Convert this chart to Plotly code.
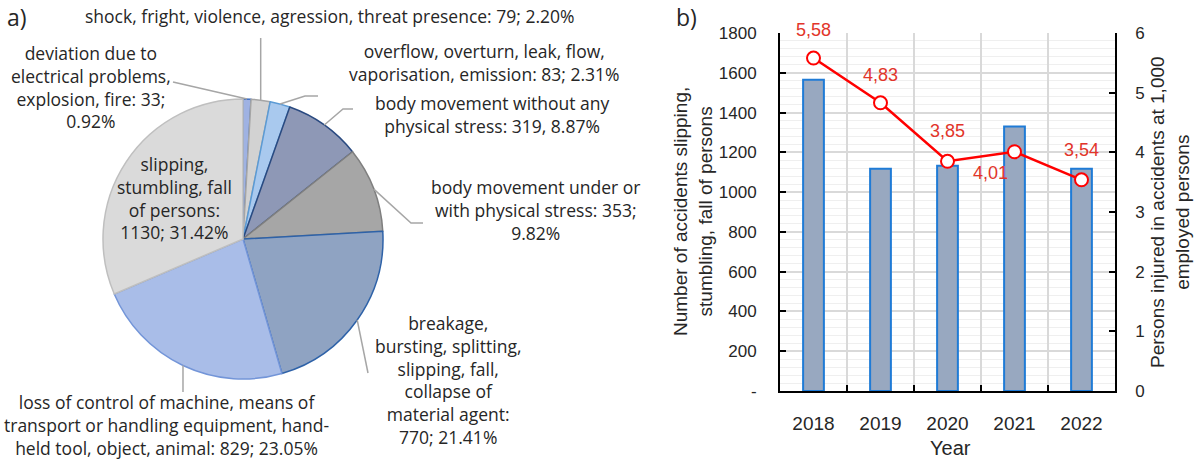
import math
import plotly.graph_objects as go

W, H = 1194, 461

# ---------------- data ----------------
pie_names = ["electrical", "shock", "overflow", "body_without", "body_under",
             "breakage", "loss_control", "slipping"]
pie_values = [33, 79, 83, 319, 353, 770, 829, 1130]
pie_texts = [
    "deviation due to<br>electrical problems,<br>explosion, fire: 33;<br>0.92%",
    "shock, fright, violence, agression, threat presence: 79; 2.20%",
    "overflow, overturn, leak, flow,<br>vaporisation, emission: 83; 2.31%",
    "body movement without any<br>physical stress: 319, 8.87%",
    "body movement under or<br>with physical stress: 353;<br>9.82%",
    "breakage,<br>bursting, splitting,<br>slipping, fall,<br>collapse of<br>material agent:<br>770; 21.41%",
    "loss of control of machine, means of<br>transport or handling equipment, hand-<br>held tool, object, animal: 829; 23.05%",
    "slipping,<br>stumbling, fall<br>of persons:<br>1130; 31.42%",
]
years = ["2018", "2019", "2020", "2021", "2022"]
accidents = [1565, 1117, 1132, 1330, 1117]
rate = [5.58, 4.83, 3.85, 4.01, 3.54]
left_ticks = [0, 200, 400, 600, 800, 1000, 1200, 1400, 1600, 1800]
left_ticktext = ["-", "200", "400", "600", "800", "1000", "1200", "1400", "1600", "1800"]
right_ticks = [0, 1, 2, 3, 4, 5, 6]

# ---------------- styles ----------------
pie_fill = ["#9fb2e2", "#d2d2d2", "#a9c9ee", "#8e98b6", "#a6a6a6",
            "#8fa3c2", "#a9bde8", "#dadada"]
pie_edge = ["#4472c4", "#a5a5a5", "#5b9bd5", "#2a4a80", "#7f7f7f",
            "#2e62a8", "#7395d8", "#bfbfbf"]
PIE_FONT = dict(family="Open Sans", size=17.5, color="#262626")
AX_FONT = "Liberation Sans"
RED = "#ff0000"
LABEL_RED = "#e2342a"


def px(x, y):
    return x / W, 1 - y / H


# pie geometry (pixels)
cx, cy, R = 243, 239, 140

fig = go.Figure()

fig.add_trace(go.Pie(
    labels=pie_names, values=pie_values, sort=False, direction="clockwise",
    rotation=0, textinfo="none", hoverinfo="label+value+percent",
    marker=dict(colors=pie_fill, line=dict(color=pie_edge, width=1.5)),
    domain=dict(x=[(cx - R) / W, (cx + R) / W], y=[1 - (cy + R) / H, 1 - (cy - R) / H]),
    showlegend=False,
))

# label positions (pixel centres) and leader-line label-side points
label_pos = [(91, 87), (330, 16), (484, 62), (493, 114), (535, 210),
             (448, 380), (166, 425), (175, 198)]
leader_pts = [
    [(173, 82)],
    [None, 38],            # vertical up to y=38
    [(305, 96), (318, 96)],
    [(343, 109), (353, 109)],
    [(411, 223), (423, 223)],
    [(368, 373)],
    [None, 392],           # vertical down to y=392
    None,
]

total = sum(pie_values)
cum = 0
annotations = []
shapes = []
for i, v in enumerate(pie_values):
    mid = (cum + v / 2) / total * 2 * math.pi
    cum += v
    ex, ey = cx + R * math.sin(mid), cy - R * math.cos(mid)
    pts = leader_pts[i]
    if pts is not None:
        if pts[0] is None:
            seq = [(ex, ey), (ex, pts[1])]
        else:
            seq = [(ex, ey)] + pts
        path = ""
        for k, (a, b) in enumerate(seq):
            X, Y = px(a, b)
            path += ("M" if k == 0 else " L") + f" {X:.5f},{Y:.5f}"
        shapes.append(dict(type="path", path=path, xref="paper", yref="paper",
                           line=dict(color="#a6a6a6", width=1.5)))
    lx, ly = px(*label_pos[i])
    annotations.append(dict(text=pie_texts[i], x=lx, y=ly, xref="paper", yref="paper",
                            xanchor="center", yanchor="middle", showarrow=False,
                            align="center", font=PIE_FONT))

# ---------------- right chart ----------------
fig.add_trace(go.Bar(
    x=years, y=accidents, width=0.31, xaxis="x", yaxis="y",
    marker=dict(color="#98a8c0", line=dict(color="#1f7bd6", width=2)),
    showlegend=False,
))
fig.add_trace(go.Scatter(
    x=years, y=rate, xaxis="x", yaxis="y2", mode="lines+markers",
    line=dict(color=RED, width=2.5),
    marker=dict(symbol="circle", size=13, color="white", line=dict(color=RED, width=2)),
    showlegend=False,
))

shifts = [(0, 28), (0, 28), (0, 30), (-24, -21), (0, 30)]
for idx, (v, (sx, sy)) in enumerate(zip(rate, shifts)):
    annotations.append(dict(text=f"{v:.2f}".replace(".", ","), x=idx, y=v,
                            xref="x", yref="y2", showarrow=False,
                            xanchor="center", yanchor="middle",
                            xshift=sx, yshift=sy,
                            font=dict(family=AX_FONT, size=18, color=LABEL_RED)))


def paper_text(text, x, y, size, family=AX_FONT, angle=0):
    tx, ty = px(x, y)
    return dict(text=text, x=tx, y=ty, xref="paper", yref="paper",
                xanchor="center", yanchor="middle", textangle=angle,
                showarrow=False, font=dict(family=family, size=size, color="#262626"))


annotations.append(paper_text("Number of accidents slipping,<br>stumbling, fall of persons",
                              693, 212, 19, angle=-90))
annotations.append(paper_text("Persons injured in accidents at 1,000<br>employed persons",
                              1170, 212, 19, angle=-90))
annotations.append(paper_text("Year", 950, 448, 20))
annotations.append(paper_text("a)", 17, 17, 23, family="Open Sans"))
annotations.append(paper_text("b)", 686, 17, 23, family="Open Sans"))

x0, x1 = 780 / W, 1115 / W
y0, y1 = 1 - 391 / H, 1 - 33 / H

fig.update_layout(
    width=W, height=H, margin=dict(l=0, r=0, t=0, b=0, autoexpand=False),
    paper_bgcolor="white", plot_bgcolor="white",
    showlegend=False,
    xaxis=dict(domain=[x0, x1], type="category", categoryorder="array",
               categoryarray=years, range=[-0.5, 4.5], autorange=False,
               tickson="boundaries", showgrid=True,
               gridcolor="#d9d9d9", gridwidth=1.5, ticks="inside", ticklen=6,
               tickwidth=1.5, tickcolor="black", showline=True, linecolor="black",
               linewidth=1.8, ticklabelstandoff=14, tickangle=0, automargin=False,
               tickfont=dict(family=AX_FONT, size=19, color="#262626"),
               anchor="y", zeroline=False),
    yaxis=dict(domain=[y0, y1], range=[0, 1800], autorange=False, tickvals=left_ticks,
               ticktext=left_ticktext, ticks="inside", ticklen=6, tickwidth=1.5,
               tickcolor="black", showline=True, linecolor="black", linewidth=1.8,
               showgrid=True, gridcolor="#d9d9d9", gridwidth=1.5, zeroline=False,
               minor=dict(dtick=40, showgrid=True, gridcolor="#efefef", gridwidth=1),
               ticklabelstandoff=18, automargin=False,
               tickfont=dict(family=AX_FONT, size=17, color="#262626"),
               anchor="x"),
    yaxis2=dict(overlaying="y", side="right", range=[0, 6], autorange=False,
                tickvals=right_ticks,
                ticks="inside", ticklen=6, tickwidth=1.5, tickcolor="black",
                showline=True, linecolor="black", linewidth=1.8, showgrid=False,
                zeroline=False, ticklabelstandoff=15, automargin=False,
                tickfont=dict(family=AX_FONT, size=17, color="#262626"),
                anchor="x"),
    annotations=annotations,
    shapes=shapes,
)

fig.write_html("out.html", config={"displayModeBar": False},
               post_script="document.body.style.margin='0';document.body.style.padding='0';")
